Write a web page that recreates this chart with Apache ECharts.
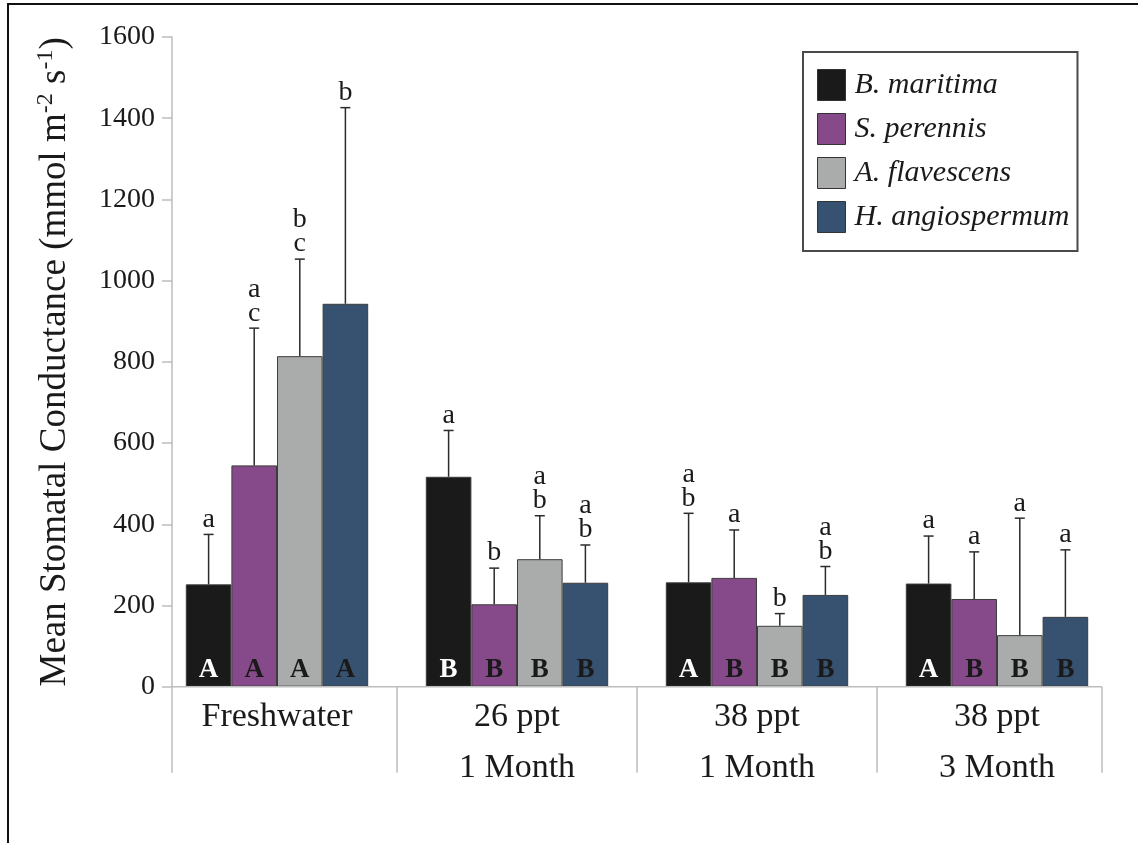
<!DOCTYPE html>
<html>
<head>
<meta charset="utf-8">
<script src="https://cdn.jsdelivr.net/npm/echarts/dist/echarts.min.js"></script>
<style>
  html, body { margin: 0; padding: 0; background: #ffffff; }
  #chart { width: 1138px; height: 843px; }
</style>
</head>
<body>
<div id="chart"></div>
<script>
// Treatments along the x axis
const categories = ['Freshwater', '26 ppt\n1 Month', '38 ppt\n1 Month', '38 ppt\n3 Month'];

// Species (legend order) and their fill colours
const speciesNames = ['B. maritima', 'S. perennis', 'A. flavescens', 'H. angiospermum'];
const speciesColors = ['#1a1a1a', '#864a8a', '#aaabab', '#375270'];

// Mean stomatal conductance (mmol m-2 s-1) per treatment
const meanBM = [252, 517, 257, 254];
const meanSP = [545, 203, 268, 216];
const meanAF = [814, 314, 150, 127];
const meanHA = [943, 256, 226, 172];

// Upper error (standard error) per treatment
const errBM = [123, 114, 170, 117];
const errSP = [338, 89, 118, 116];
const errAF = [239, 107, 30, 288];
const errHA = [483, 93, 70, 165];

// Lower-case letters: differences among species within a treatment
const lettersBM = ['a', 'a', 'a\nb', 'a'];
const lettersSP = ['a\nc', 'b', 'a', 'a'];
const lettersAF = ['b\nc', 'a\nb', 'b', 'a'];
const lettersHA = ['b', 'a\nb', 'a\nb', 'a'];

// Upper-case letters: differences among treatments within a species
const capsBM = ['A', 'B', 'A', 'A'];
const capsSP = ['A', 'B', 'B', 'B'];
const capsAF = ['A', 'B', 'B', 'B'];
const capsHA = ['A', 'B', 'B', 'B'];

// Value axis
const yMin = 0, yMax = 1600, yStep = 200;

const means = [meanBM, meanSP, meanAF, meanHA];
const errs = [errBM, errSP, errAF, errHA];
const letters = [lettersBM, lettersSP, lettersAF, lettersHA];
const caps = [capsBM, capsSP, capsAF, capsHA];
const capColors = ['#ffffff', '#1a1a1a', '#1a1a1a', '#1a1a1a'];

const SERIF = '"Liberation Serif", "Times New Roman", "DejaVu Serif", serif';
const CAT_GAP = 0.24;            // barCategoryGap as a fraction
const PLOT_LEFT = 157, PLOT_RIGHT = 1117, PLOT_TOP = 37, PLOT_BOTTOM = 686.7;
const AXIS_INSET = 15;           // y axis sits a little inside the first category
const AXIS_END_FRAC = 0.4375;    // how far the x axis reaches past the outer bar groups
const DROP = 86;                 // length of the category divider lines below the axis
const AXIS_GRAY = '#bdbdbd';

const chart = echarts.init(document.getElementById('chart'), null, { renderer: 'canvas' });

const barSeries = speciesNames.map((name, k) => ({
  name: name,
  type: 'bar',
  data: means[k],
  barGap: '0%',
  barCategoryGap: (CAT_GAP * 100) + '%',
  itemStyle: { color: speciesColors[k], borderColor: '#3c3c3c', borderWidth: 1 },
  label: {
    show: true,
    position: 'insideBottom',
    distance: 3,
    formatter: p => caps[k][p.dataIndex],
    fontFamily: SERIF,
    fontWeight: 'bold',
    fontSize: 27,
    color: capColors[k]
  },
  emphasis: { disabled: true },
  z: 2
}));

const errorSeries = speciesNames.map((name, k) => ({
  name: 'err-' + name,
  type: 'custom',
  data: means[k].map((m, i) => [i, m, errs[k][i]]),
  z: 3,
  silent: true,
  renderItem: (params, api) => {
    const cat = api.value(0), mean = api.value(1), err = api.value(2);
    const base = api.coord([cat, mean]);
    const top = api.coord([cat, mean + err]);
    const catW = api.size([1, 0])[0];
    const barW = catW * (1 - CAT_GAP) / 4;
    const x = base[0] + (k - 1.5) * barW;
    const stroke = { stroke: '#2b2b2b', lineWidth: 1.5 };
    return {
      type: 'group',
      children: [
        { type: 'line', shape: { x1: x, y1: base[1], x2: x, y2: top[1] }, style: stroke },
        { type: 'line', shape: { x1: x - 5, y1: top[1], x2: x + 5, y2: top[1] }, style: stroke },
        {
          type: 'text',
          style: {
            text: letters[k][params.dataIndex],
            x: x, y: top[1] - 3,
            align: 'center', verticalAlign: 'bottom',
            font: '28px ' + SERIF,
            lineHeight: 24,
            fill: '#1a1a1a'
          }
        }
      ]
    };
  }
}));

chart.setOption({
  animation: false,
  backgroundColor: '#ffffff',
  grid: {
    left: PLOT_LEFT, top: PLOT_TOP,
    width: PLOT_RIGHT - PLOT_LEFT, height: PLOT_BOTTOM - PLOT_TOP,
    containLabel: false, outerBoundsMode: 'none'
  },
  legend: {
    data: speciesNames,
    orient: 'vertical',
    left: 803, top: 52,
    padding: [17, 8, 18, 14],
    itemWidth: 28, itemHeight: 31, itemGap: 12,
    icon: 'rect',
    borderColor: '#4a4a4a', borderWidth: 2,
    itemStyle: { borderColor: '#333333', borderWidth: 1 },
    textStyle: { fontFamily: SERIF, fontStyle: 'italic', fontSize: 30, color: '#1a1a1a', padding: [0, 0, 0, 4] },
    selectedMode: false
  },
  xAxis: {
    type: 'category',
    data: categories,
    axisLine: { show: false },
    axisTick: { show: false },
    axisLabel: { fontFamily: SERIF, fontSize: 34, color: '#1a1a1a', lineHeight: 51, margin: 5, interval: 0 },
    splitLine: { show: false }
  },
  yAxis: {
    type: 'value',
    min: yMin, max: yMax, interval: yStep,
    offset: -AXIS_INSET,
    axisLine: { show: true, lineStyle: { color: AXIS_GRAY, width: 1.5 } },
    axisTick: { show: true, length: 10, lineStyle: { color: AXIS_GRAY, width: 1.5 } },
    axisLabel: { fontFamily: SERIF, fontSize: 28, color: '#1a1a1a', margin: 17, formatter: v => String(v) },
    splitLine: { show: false },
    name: 'Mean Stomatal Conductance (mmol m{sup|-2} s{sup|-1})',
    nameLocation: 'middle',
    nameRotate: 90,
    nameGap: 96,
    nameTextStyle: {
      fontFamily: SERIF, fontSize: 37, color: '#1a1a1a', lineHeight: 42,
      rich: {
        sup: { fontFamily: SERIF, fontSize: 24, lineHeight: 24, verticalAlign: 'top', color: '#1a1a1a' }
      }
    }
  },
  series: barSeries.concat(errorSeries)
});

// Axis baseline, category dividers and the outer frame
function drawFrame() {
  const y0 = chart.convertToPixel({ yAxisIndex: 0 }, yMin);
  const centers = categories.map((c, i) => chart.convertToPixel({ xAxisIndex: 0 }, i));
  const catW = centers[1] - centers[0];
  const leftX = PLOT_LEFT + AXIS_INSET;
  const rightX = centers[centers.length - 1] + catW * AXIS_END_FRAC;
  const dividers = [leftX];
  for (let i = 0; i < centers.length - 1; i++) dividers.push((centers[i] + centers[i + 1]) / 2);
  dividers.push(rightX);
  const line = { stroke: AXIS_GRAY, lineWidth: 1.5 };
  const els = [
    { type: 'line', silent: true, z: 5, shape: { x1: leftX, y1: y0, x2: rightX, y2: y0 }, style: line }
  ];
  dividers.forEach(x => {
    els.push({ type: 'line', silent: true, z: 5, shape: { x1: x, y1: y0, x2: x, y2: y0 + DROP }, style: line });
  });
  els.push({
    type: 'rect', silent: true, z: 10,
    shape: { x: 8, y: 4, width: 1200, height: 900 },
    style: { fill: 'none', stroke: '#111111', lineWidth: 2 }
  });
  chart.setOption({ graphic: els });
}
drawFrame();
</script>
</body>
</html>
